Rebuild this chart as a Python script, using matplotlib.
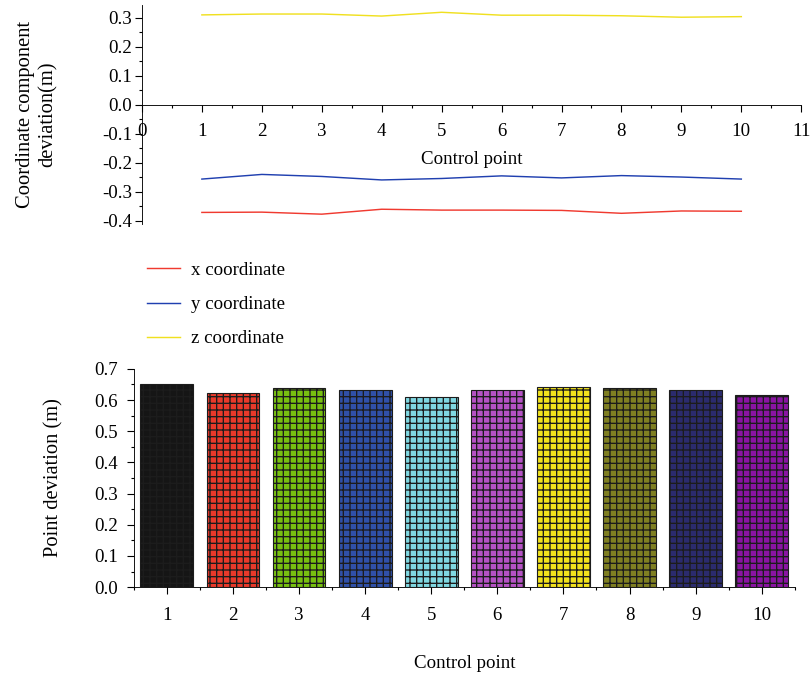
import numpy as np
import matplotlib
matplotlib.use('Agg')
import matplotlib.pyplot as plt
from matplotlib.ticker import MultipleLocator

plt.rcParams['font.family'] = ['Liberation Serif', 'DejaVu Serif']
plt.rcParams['hatch.linewidth'] = 1.2

# data
points = np.arange(1, 11)
x_dev = [-0.371, -0.370, -0.377, -0.360, -0.363, -0.363, -0.364, -0.374, -0.366, -0.367]
y_dev = [-0.256, -0.240, -0.247, -0.259, -0.254, -0.245, -0.252, -0.244, -0.249, -0.256]
z_dev = [0.310, 0.313, 0.313, 0.306, 0.319, 0.309, 0.309, 0.307, 0.302, 0.304]
point_dev = [0.651, 0.624, 0.639, 0.631, 0.611, 0.633, 0.642, 0.637, 0.631, 0.617]
bar_colors = ['#151515', '#e8392a', '#78c010', '#3050a8', '#80d8e2',
              '#b552c4', '#f2e21c', '#7f7f22', '#2b2b6e', '#8a14a2']
line_labels = ['x coordinate', 'y coordinate', 'z coordinate']
line_colors = ['#f03a30', '#2040b0', '#f0e020']

fs = 17
fmt = plt.FuncFormatter(lambda v, p: '%.1f' % (0.0 if abs(v) < 1e-9 else v))

fig = plt.figure(figsize=(811 / 80, 678 / 80), dpi=80)

# top: coordinate component deviation
ax1 = fig.add_axes([0.175, 0.670, 0.813, 0.323])
for vals, lab, col in zip([x_dev, y_dev, z_dev], line_labels, line_colors):
    ax1.plot(points, vals, color=col, lw=1.3, label=lab)
ax1.set_xlim(0, 11)
ax1.set_ylim(-0.41, 0.345)
ax1.spines['bottom'].set_position(('data', 0))
ax1.spines['top'].set_visible(False)
ax1.spines['right'].set_visible(False)
ax1.xaxis.set_major_locator(MultipleLocator(1))
ax1.xaxis.set_minor_locator(MultipleLocator(0.5))
ax1.set_yticks(np.arange(-0.4, 0.31, 0.1))
ax1.yaxis.set_minor_locator(MultipleLocator(0.05))
ax1.yaxis.set_major_formatter(fmt)
ax1.tick_params(which='major', length=6, width=1, labelsize=fs, pad=3)
ax1.tick_params(axis='x', which='major', pad=10)
ax1.tick_params(which='minor', length=3, width=1)
ax1.set_xlabel('Control point', fontsize=fs, labelpad=10)
ax1.set_ylabel('Coordinate component\ndeviation(m)', fontsize=18.5, labelpad=40,
               linespacing=1.2)

fig.legend(*ax1.get_legend_handles_labels(), loc='upper left',
           bbox_to_anchor=(0.172, 0.625), frameon=False, fontsize=fs,
           handlelength=1.75, handletextpad=0.6, labelspacing=0.9,
           borderaxespad=0)

# bottom: point deviation
ax2 = fig.add_axes([0.165, 0.134, 0.815, 0.322])
ax2.bar(points, point_dev, width=0.8, color=bar_colors, edgecolor='#1c1c1c',
        hatch='++', lw=1.0)
ax2.set_xlim(0.5, 10.5)
ax2.set_ylim(0, 0.7)
ax2.spines['top'].set_visible(False)
ax2.spines['right'].set_visible(False)
ax2.set_xticks(points)
ax2.xaxis.set_minor_locator(MultipleLocator(1, offset=0.5))
ax2.yaxis.set_major_locator(MultipleLocator(0.1))
ax2.yaxis.set_minor_locator(MultipleLocator(0.05))
ax2.yaxis.set_major_formatter(fmt)
ax2.tick_params(which='major', length=6, width=1, labelsize=fs, pad=8)
ax2.tick_params(axis='x', which='major', pad=12)
ax2.tick_params(which='minor', length=3, width=1)
ax2.set_xlabel('Control point', fontsize=fs, labelpad=28)
ax2.set_ylabel('Point deviation (m)', fontsize=18.5, labelpad=28)

fig.savefig('out.png', dpi=80)
